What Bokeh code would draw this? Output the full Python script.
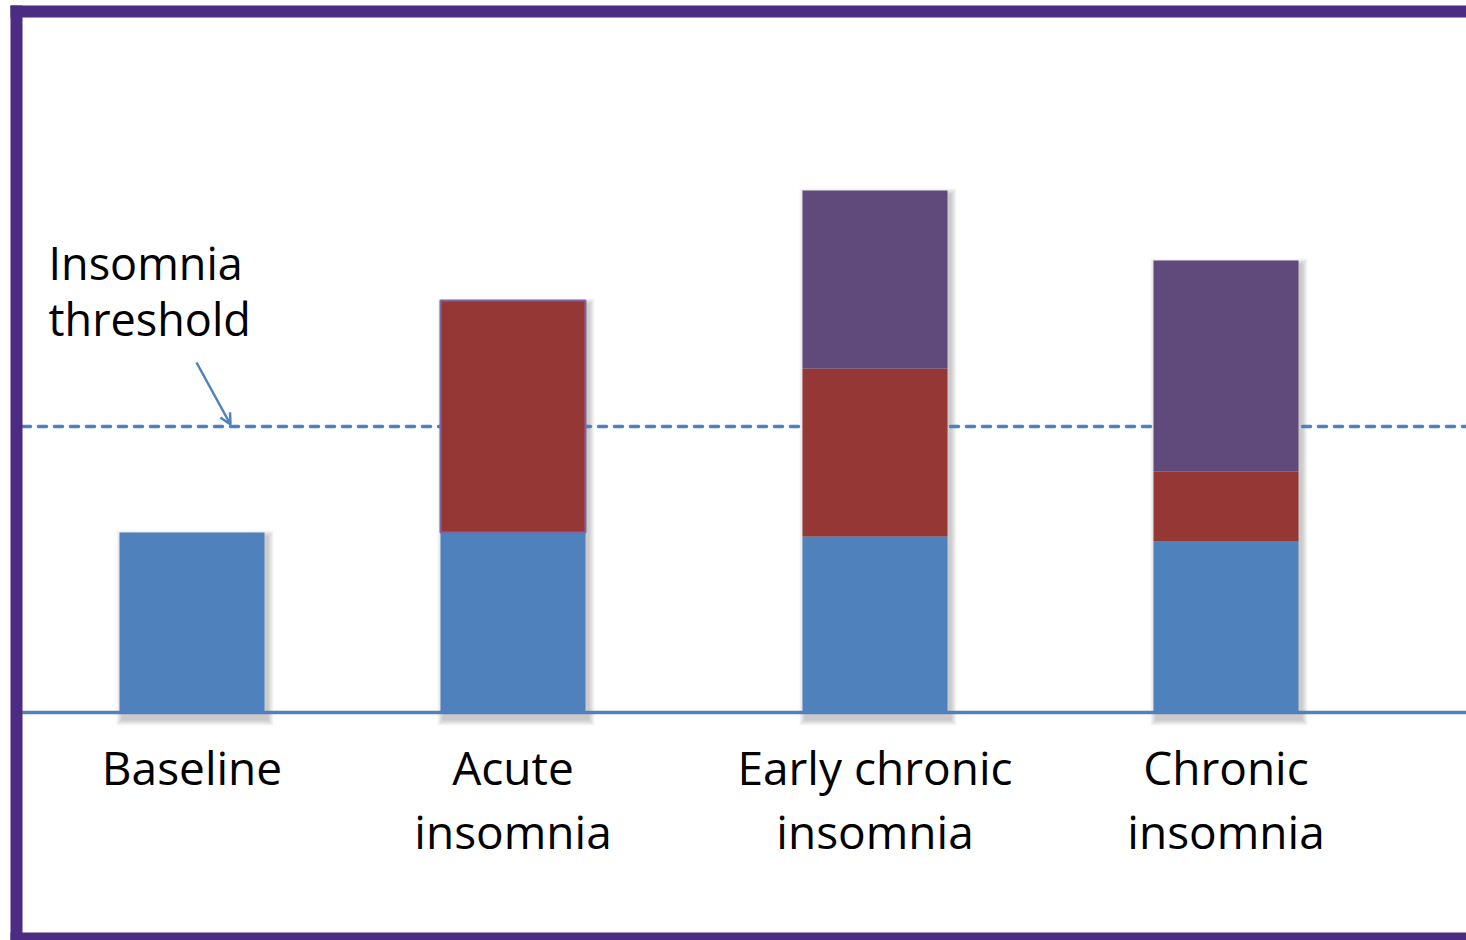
from bokeh.plotting import figure
from bokeh.models import Range1d, Arrow, OpenHead, ColumnDataSource
from bokeh.core.properties import value
from bokeh.embed import file_html
from bokeh.resources import INLINE

# ---- data -------------------------------------------------------------
stages = ["Baseline", "Acute insomnia", "Early chronic insomnia", "Chronic insomnia"]
label_lines = [["Baseline"], ["Acute", "insomnia"], ["Early chronic", "insomnia"], ["Chronic", "insomnia"]]
baseline_part = [180, 180, 176, 171]
acute_part = [0, 232, 168, 70]
chronic_part = [0, 0, 178, 211]
threshold = 286

# ---- layout -----------------------------------------------------------
W, H = 1466, 940
BASE_PX = 712                    # pixel row of the zero line
x_pos = [191.5, 512.5, 874.5, 1225.5]
bar_w = 145
BLUE, RED, PURPLE = "#4F81BD", "#953735", "#604A7B"
FRAME = "#4B2C82"
FONT = "Open Sans"


def py(pix):
    """pixel row -> data y"""
    return BASE_PX - pix


p = figure(width=W, height=H, output_backend="svg", toolbar_location=None,
           x_range=Range1d(0, W), y_range=Range1d(py(H), py(0)),
           min_border=0, background_fill_color="white")
p.axis.visible = False
p.grid.visible = False
p.outline_line_color = None

# stacked segments
bottoms0 = [0] * 4
tops0 = [b for b in baseline_part]
bottoms1 = tops0
tops1 = [b + a for b, a in zip(tops0, acute_part)]
bottoms2 = tops1
tops2 = [t + c for t, c in zip(tops1, chronic_part)]
totals = tops2

# soft drop shadow behind each bar
for k in range(1, 7):
    p.quad(left=[x - bar_w / 2 - k + 3 for x in x_pos],
           right=[x + bar_w / 2 + k + 3 for x in x_pos],
           bottom=[-k - 7] * 4, top=[t + k - 4 for t in totals],
           fill_color="black", fill_alpha=0.035, line_color=None)

# zero line
p.segment(x0=[14], x1=[W], y0=[0], y1=[0], line_color=BLUE, line_width=3.5)

# threshold dashed line
p.segment(x0=[22], x1=[W], y0=[threshold], y1=[threshold], line_color=BLUE,
          line_width=3.5, line_dash="8 8", line_cap="round")

segs = [(bottoms0, tops0, BLUE), (bottoms1, tops1, RED), (bottoms2, tops2, PURPLE)]
for bots, tops, col in segs:
    xs, bs, ts = [], [], []
    for x, b, t in zip(x_pos, bots, tops):
        if t > b:
            xs.append(x); bs.append(b); ts.append(t)
    src = ColumnDataSource(dict(x=xs, bottom=bs, top=ts))
    p.vbar(x="x", bottom="bottom", top="top", width=bar_w, source=src,
           fill_color=col, line_color=None)

# outline on the acute segment
p.vbar(x=[x_pos[1]], bottom=[bottoms1[1]], top=[tops1[1]], width=bar_w,
       fill_color=None, line_color="#8064A2", line_width=2)

# category labels
for x, lines in zip(x_pos, label_lines):
    for i, line in enumerate(lines):
        p.text(x=[x], y=[py(766 + 64 * i)], text=[line], text_font=value(FONT),
               text_font_size="46px", text_align="center", text_baseline="middle",
               text_color="black")

# threshold annotation
for i, line in enumerate(["Insomnia", "threshold"]):
    p.text(x=[48], y=[py(262 + 56 * i)], text=[line], text_font=value(FONT),
           text_font_size="45px", text_align="left", text_baseline="middle",
           text_color="black")
p.add_layout(Arrow(end=OpenHead(size=11, line_color=BLUE, line_width=2.5),
                   x_start=196, y_start=py(362), x_end=230, y_end=threshold + 2,
                   line_color=BLUE, line_width=2.5))

# purple frame (left, top, bottom)
p.quad(left=[10, 10, 10], right=[22, W, W],
       top=[py(5), py(5), py(932)], bottom=[py(H), py(17), py(H)],
       fill_color=FRAME, line_color=None)

open("out.html", "w").write(file_html(p, INLINE))
